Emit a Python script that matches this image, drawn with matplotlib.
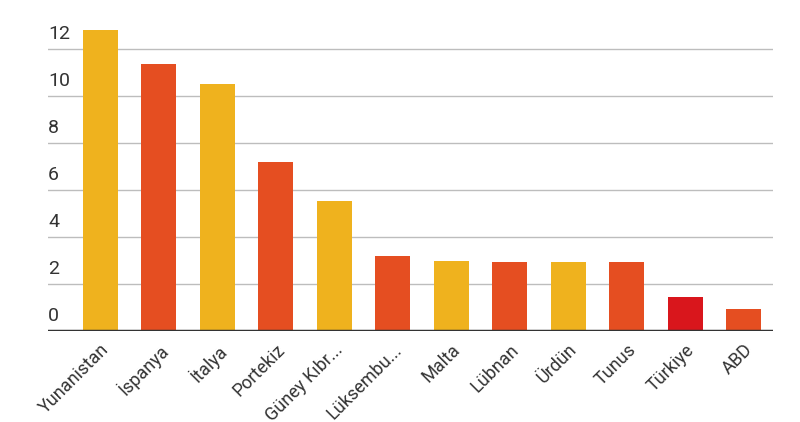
import matplotlib.pyplot as plt

# values
countries = ["Yunanistan", "İspanya", "İtalya", "Portekiz", "Güney Kıbr...",
             "Lüksembu...", "Malta", "Lübnan", "Ürdün", "Tunus", "Türkiye", "ABD"]
values = [12.8, 11.35, 10.5, 7.2, 5.55, 3.2, 3.0, 2.95, 2.95, 2.95, 1.45, 0.95]
yticks = [0, 2, 4, 6, 8, 10, 12]

yellow = '#EFB21E'
orange = '#E54E21'
red = '#D9161C'
colors = [yellow if i % 2 == 0 else orange for i in range(len(countries))]
colors[countries.index("Türkiye")] = red

plt.rcParams['font.family'] = ['Roboto', 'DejaVu Sans']

fig = plt.figure(figsize=(8, 4.22), dpi=100)
ax = fig.add_axes([48/800, 1 - 331/422, (773 - 48)/800, (331 - 21)/422])

x = range(len(countries))
ax.bar(x, values, width=0.6, color=colors, zorder=3)

ax.set_xlim(-0.89, 11.5)
ax.set_ylim(0, 13.2)

for t in yticks:
    if t > 0:
        ax.axhline(t, color='#BDBDBD', linewidth=1, zorder=1)
    ax.text(-0.89, t + 0.27, str(t), ha='left', va='bottom',
            fontsize=14, color='#333333')
ax.axhline(0, color='#333333', linewidth=2.5, zorder=4)

ax.set_yticks([])
ax.set_xticks(list(x))
ax.set_xticklabels(countries, rotation=45, ha='right', rotation_mode='anchor',
                   fontsize=13, color='#333333')
ax.tick_params(axis='x', length=0, pad=7)
for s in ax.spines.values():
    s.set_visible(False)

fig.savefig('out.png', dpi=100)
